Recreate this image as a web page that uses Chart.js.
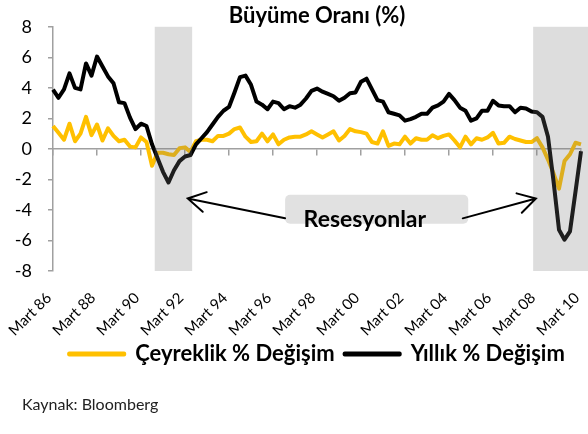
<!DOCTYPE html>
<html>
<head>
<meta charset="utf-8">
<script src="https://cdn.jsdelivr.net/npm/chart.js@4.4.0/dist/chart.umd.min.js"></script>
<style>
  html, body { margin: 0; padding: 0; background: #fff; }
  #wrap { width: 588px; height: 434px; }
</style>
</head>
<body>
<div id="wrap"><canvas id="growthChart" width="588" height="434"></canvas></div>
<script>
const years = ['86', '87', '88', '89', '90', '91', '92', '93', '94', '95', '96', '97', '98',
               '99', '00', '01', '02', '03', '04', '05', '06', '07', '08', '09', '10'];
const quarterNames = ['Mart', 'Haziran', 'Eylül', 'Aralık'];

// quarter labels from Mart 86 to Mart 10
const categories = [];
years.forEach(yy => quarterNames.forEach(q => categories.push(q + ' ' + yy)));
categories.length = 97;

const quarterlyChange = [
  1.5, 1.05, 0.6, 1.65, 0.5, 1.0, 2.1, 0.9, 1.6, 0.55,
  1.35, 0.85, 0.5, 0.6, 0.15, 0.1, 0.75, 0.45, -1.1, -0.25,
  -0.25, -0.35, -0.4, 0.05, 0.1, -0.2, 0.5, 0.6, 0.6, 0.5,
  0.85, 0.85, 1.0, 1.3, 1.4, 0.8, 0.45, 0.5, 1.0, 0.5,
  0.95, 0.3, 0.6, 0.75, 0.8, 0.8, 0.95, 1.15, 0.95, 0.75,
  0.95, 1.15, 0.55, 0.85, 1.3, 1.15, 1.1, 1.0, 0.45, 0.35,
  1.15, 0.2, 0.35, 0.3, 0.8, 0.35, 0.7, 0.6, 0.6, 0.9,
  0.7, 0.85, 0.95, 0.55, 0.1, 0.8, 0.3, 0.7, 0.6, 0.75,
  1.05, 0.35, 0.4, 0.8, 0.65, 0.55, 0.45, 0.45, 0.7, 0.1,
  -0.7, -1.6, -2.6, -0.8, -0.35, 0.4, 0.3
];

const yearlyChange = [
  3.88, 3.35, 3.9, 4.95, 4.0, 3.9, 5.6, 4.8, 6.05, 5.4,
  4.75, 4.3, 3.05, 3.0, 2.05, 1.3, 1.65, 1.5, 0.3, -0.6,
  -1.5, -2.2, -1.4, -0.8, -0.5, -0.4, 0.3, 0.7, 1.1, 1.6,
  2.1, 2.5, 2.75, 3.7, 4.7, 4.8, 4.2, 3.1, 2.9, 2.6,
  3.1, 3.0, 2.6, 2.8, 2.7, 2.9, 3.3, 3.8, 3.95, 3.75,
  3.6, 3.45, 3.15, 3.35, 3.65, 3.7, 4.4, 4.6, 3.9, 3.2,
  3.1, 2.4, 2.3, 2.2, 1.85, 1.95, 2.1, 2.3, 2.3, 2.7,
  2.85, 3.1, 3.6, 3.2, 2.7, 2.5, 1.85, 2.0, 2.5, 2.5,
  3.15, 2.85, 2.8, 2.8, 2.4, 2.7, 2.65, 2.45, 2.4, 2.1,
  0.8, -2.1, -5.3, -5.95, -5.4, -2.8, -0.15
];

// recession bands, in quarter index units
const recessions = [[18.5, 25.3], [87.3, 97.5]];

// "Resesyonlar" note, in axis units (quarter index, percent)
const noteBox = { x0: 42.2, x1: 75.5, y0: -3.0, y1: -4.9 };
const noteText = { x: 56.7, y: -4.62, text: 'Resesyonlar' };
const noteArrows = [
  { from: [42.2, -4.55], to: [24.5, -3.25] },
  { from: [74.5, -4.55], to: [87.8, -3.25] }
];

const recessionPlugin = {
  id: 'recessionBands',
  afterDatasetsDraw(chart) {
    const { ctx, chartArea, scales: { x } } = chart;
    ctx.save();
    ctx.fillStyle = 'rgba(120,120,120,0.25)';
    recessions.forEach(([a, b]) => {
      const left = x.getPixelForValue(a);
      const right = x.getPixelForValue(b);
      ctx.fillRect(left, chartArea.top, right - left, chartArea.bottom - chartArea.top);
    });
    ctx.restore();
  }
};

const notePlugin = {
  id: 'recessionNote',
  afterDraw(chart) {
    const { ctx, scales: { x, y } } = chart;
    const px = v => x.getPixelForValue(v);
    const py = v => y.getPixelForValue(v);
    ctx.save();

    // box
    ctx.fillStyle = '#e1e1e1';
    ctx.beginPath();
    const bx = px(noteBox.x0), by = py(noteBox.y0);
    const bw = px(noteBox.x1) - bx, bh = py(noteBox.y1) - by;
    if (ctx.roundRect) ctx.roundRect(bx, by, bw, bh, 5); else ctx.rect(bx, by, bw, bh);
    ctx.fill();

    // arrows
    ctx.strokeStyle = '#000';
    ctx.lineWidth = 2;
    ctx.lineCap = 'round';
    noteArrows.forEach(a => {
      const x1 = px(a.from[0]), y1 = py(a.from[1]);
      const x2 = px(a.to[0]), y2 = py(a.to[1]);
      const ang = Math.atan2(y1 - y2, x1 - x2);
      const len = 20, spread = Math.PI / 6;
      ctx.beginPath();
      ctx.moveTo(x1, y1);
      ctx.lineTo(x2, y2);
      ctx.moveTo(x2 + len * Math.cos(ang - spread), y2 + len * Math.sin(ang - spread));
      ctx.lineTo(x2, y2);
      ctx.lineTo(x2 + len * Math.cos(ang + spread), y2 + len * Math.sin(ang + spread));
      ctx.stroke();
    });

    // label
    ctx.fillStyle = '#000';
    ctx.font = 'bold 23px Lato';
    ctx.textAlign = 'center';
    ctx.textBaseline = 'middle';
    ctx.fillText(noteText.text, px(noteText.x), py(noteText.y));

    // source
    ctx.font = '16px Lato';
    ctx.fillStyle = '#222';
    ctx.textAlign = 'left';
    ctx.fillText('Kaynak: Bloomberg', 22, 405);
    ctx.restore();
  }
};

const ctx = document.getElementById('growthChart').getContext('2d');
const axisGray = '#a0a0a0';

new Chart(ctx, {
  type: 'line',
  data: {
    labels: categories,
    datasets: [
      {
        label: 'Çeyreklik % Değişim',
        data: quarterlyChange,
        borderColor: '#FFC000',
        backgroundColor: '#FFC000',
        borderWidth: 4,
        pointRadius: 0,
        tension: 0,
        borderJoinStyle: 'round',
        order: 1
      },
      {
        label: 'Yıllık % Değişim',
        data: yearlyChange,
        borderColor: '#000000',
        backgroundColor: '#000000',
        borderWidth: 4,
        pointRadius: 0,
        tension: 0,
        borderJoinStyle: 'round',
        order: 0
      }
    ]
  },
  options: {
    responsive: false,
    animation: false,
    layout: { padding: { left: 0, right: 7, top: 0, bottom: 59 } },
    plugins: {
      title: {
        display: true,
        text: 'Büyüme Oranı (%)',
        fullSize: false,
        color: '#000',
        font: { family: 'Lato', size: 22, weight: 'bold', lineHeight: 1.0 },
        padding: { top: 3, bottom: 0 }
      },
      legend: {
        position: 'bottom',
        fullSize: false,
        labels: {
          boxWidth: 55,
          boxHeight: 1,
          color: '#000',
          padding: 10,
          font: { family: 'Lato', size: 22, weight: 'bold' },
          sort: (a, b) => a.datasetIndex - b.datasetIndex
        }
      },
      tooltip: { enabled: false }
    },
    scales: {
      x: {
        type: 'category',
        position: 'bottom',
        border: { display: false },
        grid: { display: false, drawTicks: false },
        ticks: {
          autoSkip: false,
          maxRotation: 45,
          minRotation: 45,
          padding: 18,
          labelOffset: -4,
          color: '#000',
          font: { family: 'Lato', size: 15 },
          callback: function (value, index) {
            return index % 8 === 0 ? this.getLabelForValue(value) : '';
          }
        },
        afterFit: s => {
          s.height = 62;
          s.paddingLeft = 0;
          s.paddingRight = 0;
          // let the rotated labels run past the axis box, as in the original
          s._computeLabelArea = () => undefined;
        }
      },
      x0: {
        type: 'category',
        axis: 'x',
        position: { y: 0 },
        ticks: { display: false, autoSkip: false },
        grid: {
          drawOnChartArea: false,
          tickLength: 6,
          lineWidth: 1.5,
          color: c => c.index % 8 === 0 ? axisGray : 'rgba(0,0,0,0)'
        },
        border: { color: axisGray, width: 1.5 }
      },
      y: {
        min: -8,
        max: 8,
        ticks: { stepSize: 2, padding: 16, color: '#000', font: { family: 'Lato', size: 18 } },
        grid: { drawOnChartArea: false, tickLength: 5, color: axisGray, lineWidth: 1.5 },
        border: { color: axisGray, width: 1.5 },
        afterFit: s => { s.width = 53; }
      }
    }
  },
  plugins: [recessionPlugin, notePlugin]
});
</script>
</body>
</html>
